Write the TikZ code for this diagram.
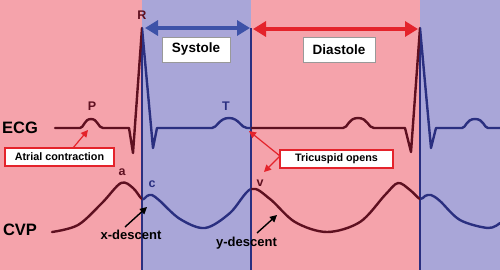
\documentclass[tikz,border=0pt]{standalone}
\usepackage{fontspec}
\setmainfont{Liberation Sans}
\usetikzlibrary{arrows.meta}
\definecolor{bgpink}{HTML}{F5A3AB}
\definecolor{bgblue}{HTML}{A9A6D8}
\definecolor{tracered}{HTML}{5E1020}
\definecolor{tracenavy}{HTML}{2A2F80}
\definecolor{arrred}{HTML}{E4232B}
\definecolor{arrblue}{HTML}{3D52A8}
\tikzset{
  trace/.style={line width=2.4pt, line join=round, line cap=round},
  phasebox/.style={draw=gray!80, fill=white, line width=0.8pt, minimum width=68pt, minimum height=25pt, font=\fontsize{13.5}{13.5}\selectfont\bfseries, inner sep=0pt},
  notebox/.style={draw=arrred, fill=white, line width=1.2pt, minimum height=18pt, font=\fontsize{10.8}{10.8}\selectfont\bfseries, inner sep=0pt},
  biglabel/.style={font=\fontsize{16.5}{16.5}\selectfont\bfseries},
  wavelabel/.style={font=\fontsize{12.5}{12.5}\selectfont\bfseries},
  desclabel/.style={font=\fontsize{13}{13}\selectfont\bfseries},
  redarrow/.style={draw=arrred, line width=1.2pt, -{Triangle[length=7pt,width=7pt]}},
  blackarrow/.style={draw=black, line width=1.4pt, -{Triangle[length=7pt,width=7pt]}},
  phasearrow/.style={line width=3.5pt, {Triangle[length=13pt,width=15pt]}-{Triangle[length=13pt,width=15pt]}},
  divider/.style={draw=tracenavy, line width=1.1pt}
}
\begin{document}
\begin{tikzpicture}[x=1pt,y=-1pt]
\useasboundingbox (0,0) rectangle (500,270);
% backgrounds
\fill[bgpink] (0,0) rectangle (142,270);
\fill[bgblue] (142,0) rectangle (251,270);
\fill[bgpink] (251,0) rectangle (420,270);
\fill[bgblue] (420,0) rectangle (500,270);
% dividers
\draw[divider] (142,28) -- (142,270);
\draw[divider] (251,28) -- (251,270);
\draw[divider] (420,28) -- (420,270);
% traces defined as macros
\def\ecgpath{(55,128) -- (80,128) .. controls (84,128) and (84,119) .. (91,119) .. controls (98,119) and (98,128) .. (103,128)
 -- (129,128) -- (133,153) -- (142,28) -- (153,148) -- (157,128) -- (212,128)
 .. controls (217,128) and (219,118) .. (229,118) .. controls (239,118) and (241,128) .. (247,128)
 -- (343,128) .. controls (348,128) and (348,118) .. (358,118) .. controls (368,118) and (368,128) .. (374,128)
 -- (405,128) -- (411,152) -- (420,28) -- (431,148) -- (436,128) -- (462,128)
 .. controls (466,128) and (466,119) .. (475,119) .. controls (484,119) and (484,128) .. (488,128) -- (500,128)}
\def\cvppath{plot[smooth, tension=0.55] coordinates {(52,232) (78,225) (102,203) (121,183) (133,188) (142,199) (147,196) (152,195) (160,201) (180,219) (205,228) (230,213) (251,189) (270,199) (295,222) (327,232) (360,222) (385,195) (398,183) (410,190) (420,199) (425,196) (431,195) (440,201) (460,220) (488,228) (500,223)}}
\begin{scope}
\clip (0,0) rectangle (142,270) (251,0) rectangle (420,270);
\draw[trace, tracered] \ecgpath;
\draw[trace, tracered] \cvppath;
\end{scope}
\begin{scope}
\clip (142,0) rectangle (251,270) (420,0) rectangle (500,270);
\draw[trace, tracenavy] \ecgpath;
\draw[trace, tracenavy] \cvppath;
\end{scope}
% phase arrows
\coordinate (sysL) at (145,28);
\coordinate (sysR) at (250,28);
\coordinate (diaL) at (253,29);
\coordinate (diaR) at (418,29);
\draw[phasearrow, arrblue] (sysL) -- (sysR);
\draw[phasearrow, arrred] (diaL) -- (diaR);
\node[phasebox] (sys) at (196,49.5) {Systole};
\node[phasebox, minimum width=72pt] (dia) at (339,49.5) {Diastole};
% labels
\node[biglabel] (ecg) at (20,128) {ECG};
\node[biglabel] (cvp) at (20,230) {CVP};
\node[wavelabel, text=tracered] (R) at (142,15) {R};
\node[wavelabel, text=tracered] (P) at (92,106) {P};
\node[wavelabel, text=tracenavy] (T) at (226,106) {T};
\node[wavelabel, text=tracered] (a) at (122,172) {a};
\node[wavelabel, text=tracenavy] (c) at (152,184) {c};
\node[wavelabel, text=tracered] (v) at (260,183) {v};
% note boxes
\node[notebox, minimum width=109pt] (atr) at (59.5,157) {Atrial contraction};
\node[notebox, minimum width=113pt] (tri) at (336.5,159) {Tricuspid opens};
\coordinate (atrS) at (73,148);
\coordinate (atrE) at (88,130);
\draw[redarrow] (atrS) -- (atrE);
\coordinate (triS) at (280,156);
\coordinate (triE1) at (249,131);
\coordinate (triE2) at (264,172);
\draw[redarrow] (triS) -- (triE1);
\draw[redarrow] (triS) -- (triE2);
% descents
\node[desclabel] (xd) at (131,235) {x-descent};
\node[desclabel] (yd) at (246.5,243) {y-descent};
\coordinate (xdS) at (125,227);
\coordinate (xdE) at (147,207);
\coordinate (ydS) at (257,233);
\coordinate (ydE) at (277,215);
\draw[blackarrow] (xdS) -- (xdE);
\draw[blackarrow] (ydS) -- (ydE);
\end{tikzpicture}
\end{document}
